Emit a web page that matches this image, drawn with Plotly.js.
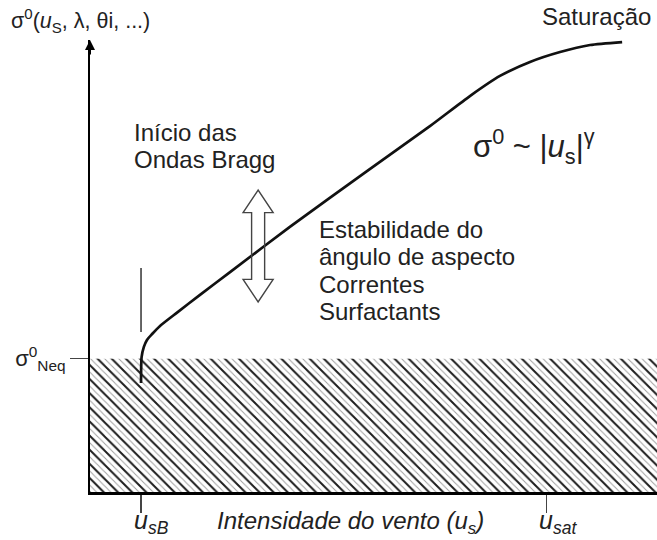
<!DOCTYPE html>
<html>
<head>
<meta charset="utf-8">
<script src="https://cdn.plot.ly/plotly-3.0.1.min.js"></script>
<style>
  html, body { margin: 0; padding: 0; background: #fff; }
  #chart { width: 657px; height: 540px; }
</style>
</head>
<body>
<div id="chart"></div>
<script>
// Wind speed (arbitrary units) and radar backscatter sigma0 along the response curve
const windSpeed   = [1.80, 1.82, 1.90, 2.01, 2.19, 2.47, 3.07, 3.88, 4.94, 7.05, 9.77, 11.99, 13.40, 14.46, 15.52, 16.58, 17.64, 18.77];
const backscatter = [4.82, 5.97, 6.42, 6.73, 6.99, 7.35, 7.94, 8.72, 9.73, 11.73, 14.20, 16.19, 17.52, 18.41, 19.03, 19.47, 19.78, 19.91];

// Characteristic wind speeds and the noise-equivalent sigma0 floor
const windTickValues = [1.8, 16.1];
const windTickLabels = ['<i>u</i><sub><i>sB</i></sub>', '<i>u</i><sub><i>sat</i></sub>'];
const floorValue = [5.9];
const floorLabels = ['σ<sup>0</sup><sub>Neq</sub>'];

// Axis extents
const xRange = [0, 20];
const yRange = [0, 20];

const FONT = 'Liberation Sans, Arial, sans-serif';
const TEXT = '#222';

// Region below the noise floor (hatched)
const floorX = [xRange[0], xRange[1], xRange[1], xRange[0]];
const floorY = [0, 0, floorValue[0], floorValue[0]];

const hatchLight = {
  x: floorX, y: floorY, type: 'scatter', mode: 'none', fill: 'toself',
  fillcolor: 'rgba(255,255,255,0)',
  fillpattern: { shape: '\\', size: 5, solidity: 0.2, fgcolor: '#a0a0a0', bgcolor: 'rgba(255,255,255,0)' },
  hoverinfo: 'skip', showlegend: false
};
const hatchDark = {
  x: floorX, y: floorY, type: 'scatter', mode: 'none', fill: 'toself',
  fillcolor: 'rgba(255,255,255,0)',
  fillpattern: { shape: '\\', size: 10, solidity: 0.19, fgcolor: '#1e1e1e', bgcolor: 'rgba(255,255,255,0)' },
  hoverinfo: 'skip', showlegend: false
};

const curve = {
  x: windSpeed, y: backscatter, type: 'scatter', mode: 'lines',
  line: { color: '#111', width: 2.7, shape: 'spline', smoothing: 0.6 },
  hoverinfo: 'skip', showlegend: false
};

// Hollow double-headed arrow (sensitivity range)
const arrowCx = 5.93, arrowTop = 13.36, arrowBottom = 8.41;
const headHalf = 0.53, shaftHalf = 0.23, headLen = 1.0;
const arrowPath = [
  'M', arrowCx, arrowTop,
  'L', arrowCx - headHalf, arrowTop - headLen,
  'L', arrowCx - shaftHalf, arrowTop - headLen,
  'L', arrowCx - shaftHalf, arrowBottom + headLen,
  'L', arrowCx - headHalf, arrowBottom + headLen,
  'L', arrowCx, arrowBottom,
  'L', arrowCx + headHalf, arrowBottom + headLen,
  'L', arrowCx + shaftHalf, arrowBottom + headLen,
  'L', arrowCx + shaftHalf, arrowTop - headLen,
  'L', arrowCx + headHalf, arrowTop - headLen, 'Z'
].join(' ');

function label(text, x, y, size, anchor, ref) {
  return {
    text: text, x: x, y: y, xref: ref || 'x', yref: ref || 'y',
    xanchor: anchor || 'left', yanchor: 'middle', showarrow: false,
    font: { family: FONT, size: size, color: TEXT }
  };
}

const annotations = [
  // vertical axis arrowhead
  { x: 0, y: yRange[1], xref: 'x', yref: 'y', ax: 0, ay: 16, axref: 'pixel', ayref: 'pixel',
    text: '', showarrow: true, arrowhead: 2, arrowsize: 1, arrowwidth: 2, arrowcolor: '#000', standoff: 0 },
  label('σ<sup>0</sup>(<i>u</i><sub>S</sub>, λ, θi, ...)', -0.142, 1.044, 21.5, 'left', 'paper'),
  label('Saturação', 0.993, 1.051, 24, 'right', 'paper'),
  label('σ<sup>0</sup> ~ |<i>u</i><sub>s</sub>|<sup>γ</sup>', 13.45, 15.3, 31, 'left'),
  label('Início das', 1.48, 15.9, 24, 'left'),
  label('Ondas Bragg', 1.48, 14.7, 24, 'left'),
  label('Estabilidade do', 8.0, 11.6, 24, 'left'),
  label('ângulo de aspecto', 8.0, 10.4, 24, 'left'),
  label('Correntes', 8.0, 9.2, 24, 'left'),
  label('Surfactants', 8.0, 8.0, 24, 'left'),
  label('<i>Intensidade do vento (u<sub>s</sub>)</i>', 0.4586, -0.0664, 24, 'center', 'paper'),
  label(windTickLabels[0], windTickValues[0] / xRange[1] - 0.016, -0.0664, 25, 'left', 'paper'),
  label(windTickLabels[1], windTickValues[1] / xRange[1] - 0.017, -0.0664, 25, 'left', 'paper')
];

const shapes = [
  { type: 'path', path: arrowPath, xref: 'x', yref: 'y',
    line: { color: '#444', width: 1.4 }, fillcolor: 'rgba(255,255,255,0)' },
  // onset of Bragg waves marker
  { type: 'line', xref: 'x', yref: 'y', x0: windTickValues[0], x1: windTickValues[0], y0: 7.08, y1: 9.91,
    line: { color: '#555', width: 1.8 } }
];

const layout = {
  width: 657, height: 540,
  margin: { l: 90, r: 0, t: 40, b: 48 },
  paper_bgcolor: '#fff', plot_bgcolor: '#fff',
  showlegend: false,
  xaxis: {
    range: xRange, showgrid: false, zeroline: false,
    showline: true, linewidth: 3, linecolor: '#000',
    tickmode: 'array', tickvals: windTickValues, ticktext: ['', ''],
    ticks: 'outside', ticklen: 18, tickwidth: 1.5, tickcolor: '#444'
  },
  yaxis: {
    range: yRange, showgrid: false, zeroline: false,
    showline: true, linewidth: 2, linecolor: '#000',
    tickmode: 'array', tickvals: floorValue, ticktext: floorLabels,
    ticks: 'outside', ticklen: 18, tickwidth: 1.5, tickcolor: '#444',
    tickfont: { family: FONT, size: 22, color: TEXT }
  },
  annotations: annotations,
  shapes: shapes
};

Plotly.newPlot('chart', [hatchLight, hatchDark, curve], layout, { displayModeBar: false, staticPlot: true });
</script>
</body>
</html>
